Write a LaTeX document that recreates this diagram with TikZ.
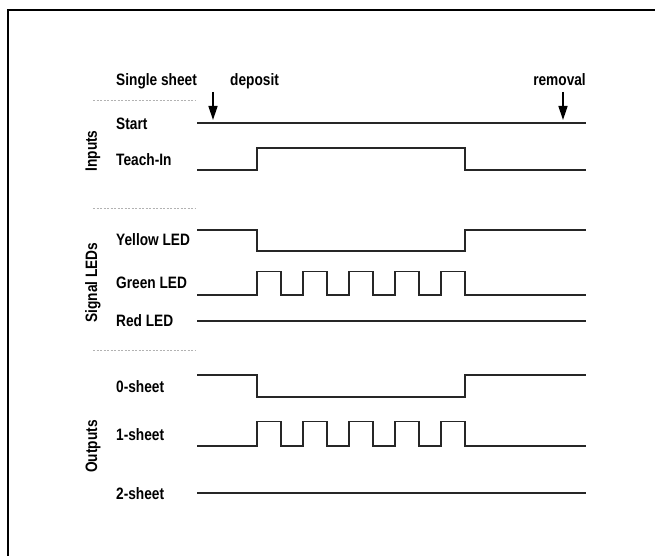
\documentclass[tikz,border=0pt]{standalone}
\usepackage{fontspec}
\setmainfont{Liberation Sans}[FakeStretch=0.83]
\usetikzlibrary{arrows.meta}
\newcommand\lblfont{\fontsize{16.5}{19}\selectfont\bfseries}
\begin{document}
\begin{tikzpicture}[x=1pt,y=-1pt,
  lbl/.style={anchor=base west,inner sep=0pt,font=\lblfont},
  grp/.style={rotate=90,inner sep=0pt,font=\lblfont},
  sig/.style={line width=1.8pt,line join=miter,draw=black!85},
  sepline/.style={draw=gray!60,line width=0.9pt,dash pattern=on 2.2pt off 1.3pt},
  arr/.style={line width=1.5pt,-{Triangle[length=14pt,width=9pt]}},
  frameline/.style={line width=2pt}]
\useasboundingbox (0,0) rectangle (655,556);
\fill[white] (0,0) rectangle (655,556);
% frame (top and left visible)
\coordinate (fTR) at (655,10);
\coordinate (fTL) at (8,10);
\coordinate (fBL) at (8,556);
\draw[frameline] (fTR) -- (fTL) -- (fBL);

% header texts
\node[lbl] (single) at (116,86) {Single sheet};
\node[lbl] (deposit) at (230,86) {deposit};
\node[lbl,anchor=base east] (removal) at (586,86) {removal};
\coordinate (depA) at (213,92);
\coordinate (depB) at (213,120);
\coordinate (remA) at (563,92);
\coordinate (remB) at (563,120);
\draw[arr] (depA) -- (depB);
\draw[arr] (remA) -- (remB);

% separators
\coordinate (s1a) at (93,100); \coordinate (s1b) at (196,100);
\coordinate (s2a) at (93,208); \coordinate (s2b) at (196,208);
\coordinate (s3a) at (93,350); \coordinate (s3b) at (196,350);
\draw[sepline] (s1a) -- (s1b);
\draw[sepline] (s2a) -- (s2b);
\draw[sepline] (s3a) -- (s3b);

% group labels
\node[grp] (gIn) at (93,151) {Inputs};
\node[grp] (gLed) at (93,282.5) {Signal LEDs};
\node[grp] (gOut) at (93,446.5) {Outputs};

% signal labels
\node[lbl] (lStart) at (116,130) {Start};
\node[lbl] (lTeach) at (116,165) {Teach-In};
\node[lbl] (lYel) at (116,245.5) {Yellow LED};
\node[lbl] (lGrn) at (116,288.5) {Green LED};
\node[lbl] (lRed) at (116,326.5) {Red LED};
\node[lbl] (l0) at (116,392.5) {0-sheet};
\node[lbl] (l1) at (116,440.5) {1-sheet};
\node[lbl] (l2) at (116,499) {2-sheet};

% waveforms
\draw[sig] (197,123) -- (586,123);
\draw[sig] (197,170) -| (257,148) -| (465,170) -- (586,170);
\draw[sig] (197,230) -| (257,251) -| (465,230) -- (586,230);
\draw[sig] (197,295) -| (257,271.5) -| (281,295) -| (303,271.5) -| (327,295)
  -| (349,271.5) -| (373,295) -| (395,271.5) -| (419,295) -| (441,271.5)
  -| (465,295) -- (586,295);
\draw[sig] (197,321) -- (586,321);
\draw[sig] (197,375) -| (257,397) -| (465,375) -- (586,375);
\draw[sig] (197,446) -| (257,421.5) -| (281,446) -| (303,421.5) -| (327,446)
  -| (349,421.5) -| (373,446) -| (395,421.5) -| (419,446) -| (441,421.5)
  -| (465,446) -- (586,446);
\draw[sig] (197,493) -- (586,493);
\end{tikzpicture}
\end{document}
